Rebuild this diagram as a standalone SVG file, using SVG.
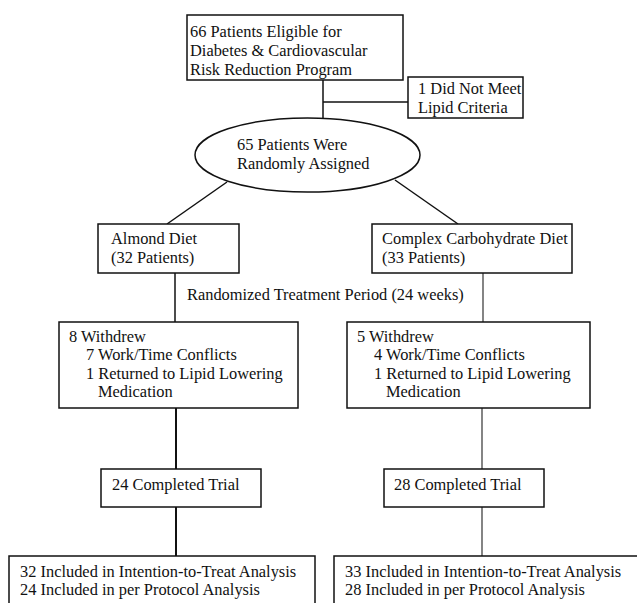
<svg xmlns="http://www.w3.org/2000/svg" width="637" height="603" viewBox="0 0 637 603">
<style>
text { font-family: "Liberation Serif", "Times New Roman", "DejaVu Serif", serif; font-size: 16.4px; fill: #111; }
.box { fill: #fff; stroke: #111; stroke-width: 1.5; }
.ln { stroke: #111; stroke-width: 1.5; fill: none; }
.ln2 { stroke: #111; stroke-width: 2; fill: none; }
.ln3 { stroke: #333; stroke-width: 1.2; fill: none; }
</style>
<rect width="637" height="603" fill="#fff"/>
<g id="connectors">
<line class="ln" x1="323" y1="80" x2="323" y2="118"/>
<line class="ln" x1="323" y1="102" x2="408" y2="102"/>
<line class="ln" x1="227" y1="182" x2="167" y2="224"/>
<line class="ln" x1="395" y1="180" x2="458" y2="224"/>
<line class="ln" x1="175" y1="273" x2="175" y2="322"/>
<line class="ln3" x1="483" y1="272" x2="483" y2="322"/>
<line class="ln2" x1="176" y1="408" x2="176" y2="469"/>
<line class="ln2" x1="176" y1="507" x2="176" y2="556"/>
<line class="ln3" x1="482" y1="408" x2="482" y2="469"/>
<line class="ln3" x1="482" y1="507" x2="482" y2="556"/>
</g>
<g id="eligible">
<rect class="box" x="187" y="15" width="216" height="65"/>
<text x="190" y="37">66 Patients Eligible for</text>
<text x="190" y="56">Diabetes &amp; Cardiovascular</text>
<text x="190" y="75">Risk Reduction Program</text>
</g>
<g id="excluded">
<rect class="box" x="408" y="77" width="115" height="41"/>
<text x="418" y="94">1 Did Not Meet</text>
<text x="418" y="113">Lipid Criteria</text>
</g>
<g id="randomized">
<ellipse class="box" cx="307.5" cy="155" rx="112.5" ry="37"/>
<text x="237" y="150">65 Patients Were</text>
<text x="237" y="169">Randomly Assigned</text>
</g>
<g id="almond">
<rect class="box" x="98" y="224" width="141" height="49"/>
<text x="111" y="244">Almond Diet</text>
<text x="111" y="263">(32 Patients)</text>
</g>
<g id="complex">
<rect class="box" x="372" y="224" width="200" height="49"/>
<text x="382" y="244">Complex Carbohydrate Diet</text>
<text x="382" y="263">(33 Patients)</text>
</g>
<g id="period-label">
<text x="187" y="300">Randomized Treatment Period (24 weeks)</text>
</g>
<g id="withdrew-almond">
<rect class="box" x="59" y="322" width="239" height="86"/>
<text x="69" y="342">8 Withdrew</text>
<text x="86" y="360">7 Work/Time Conflicts</text>
<text x="86" y="379">1 Returned to Lipid Lowering</text>
<text x="98" y="397">Medication</text>
</g>
<g id="withdrew-complex">
<rect class="box" x="347" y="322" width="243" height="86"/>
<text x="357" y="342">5 Withdrew</text>
<text x="374" y="360">4 Work/Time Conflicts</text>
<text x="374" y="379">1 Returned to Lipid Lowering</text>
<text x="386" y="397">Medication</text>
</g>
<g id="completed-almond">
<rect class="box" x="101" y="469" width="160" height="38"/>
<text x="112" y="490">24 Completed Trial</text>
</g>
<g id="completed-complex">
<rect class="box" x="384" y="469" width="160" height="38"/>
<text x="394" y="490">28 Completed Trial</text>
</g>
<g id="analysis-almond">
<rect class="box" x="9" y="556" width="306" height="60"/>
<text x="20" y="577">32 Included in Intention-to-Treat Analysis</text>
<text x="20" y="595">24 Included in per Protocol Analysis</text>
</g>
<g id="analysis-complex">
<rect class="box" x="334" y="556" width="320" height="60"/>
<text x="345" y="577">33 Included in Intention-to-Treat Analysis</text>
<text x="345" y="595">28 Included in per Protocol Analysis</text>
</g>
</svg>
